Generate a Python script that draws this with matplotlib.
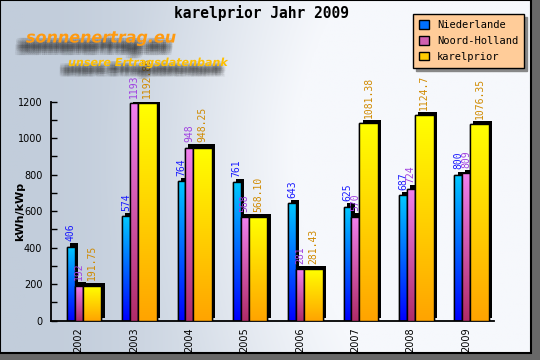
import numpy as np
import matplotlib
matplotlib.use("Agg")
import matplotlib.pyplot as plt
from matplotlib.colors import LinearSegmentedColormap, to_rgb
from matplotlib.patches import Rectangle, Patch
import matplotlib.patheffects as pe

years = ["2002", "2003", "2004", "2005", "2006", "2007", "2008", "2009"]
niederlande = [406, 574, 764, 761, 643, 625, 687, 800]
noord_holland = [192, 1193, 948, 568, 281, 570, 724, 809]
karelprior = [191.75, 1192.86, 948.25, 568.10, 281.43, 1081.38, 1124.7, 1076.35]
karelprior_labels = ["191.75", "1192.86", "948.25", "568.10", "281.43", "1081.38", "1124.7", "1076.35"]
series_names = ["Niederlande", "Noord-Holland", "karelprior"]

W, H = 540, 360
fig = plt.figure(figsize=(W / 100, H / 100), dpi=100)
fig.patch.set_facecolor("#686868")

# background panel
bg = fig.add_axes([0, 7 / H, 531 / W, 1 - 7 / H])
bg.set_axis_off()
xx = np.linspace(0, 1, 300)
yy = np.linspace(0, 1, 200)
X, Y = np.meshgrid(xx, yy)
c_left = np.array(to_rgb("#c2cddb"))
c_right = np.array(to_rgb("#f6f8fc"))
t = np.clip((X - 0.05) / 0.75, 0, 1)
t = t * t * (3 - 2 * t)
r = np.sqrt((X - 0.68) ** 2 + ((Y - 0.45) * 0.7) ** 2)
glow = np.clip(1 - r / 0.5, 0, 1) * 0.35
t = np.clip(t + glow, 0, 1)
img = c_left[None, None, :] * (1 - t[..., None]) + c_right[None, None, :] * t[..., None]
bg.imshow(img, extent=[0, 1, 0, 1], aspect="auto", origin="upper")
bg.add_patch(Rectangle((0, 0), 1, 1, transform=bg.transAxes, fill=False,
                       edgecolor="black", lw=1.5, clip_on=False))
bg.set_xlim(0, 1)
bg.set_ylim(0, 1)


def blur_shadow(dx, dy, spread, alpha):
    effects = []
    for ox in np.linspace(-spread, spread, 5):
        for oy in np.linspace(-spread, spread, 5):
            effects.append(pe.SimplePatchShadow(offset=(dx + ox, dy + oy),
                                                shadow_rgbFace="#202020", alpha=alpha))
    effects.append(pe.Normal())
    return effects


# watermark
fig.text(26 / W, 1 - 38 / H, "sonnenertrag.eu", fontsize=11.5, fontweight="bold",
         fontstyle="italic", color="#ff9a10", va="center", ha="left",
         path_effects=blur_shadow(-5, -6, 3, 0.08))
fig.text(68 / W, 1 - 63 / H, "unsere Ertragsdatenbank", fontsize=8, fontweight="bold",
         fontstyle="italic", color="#ffc000", va="center", ha="left",
         path_effects=blur_shadow(-4, -5, 2.5, 0.08))

# title
fig.text(262 / W, 1 - 13 / H, "karelprior Jahr 2009", fontsize=10.5, family="DejaVu Sans Mono",
         fontweight="bold", ha="center", va="center", color="black")

ax = fig.add_axes([50.7 / W, (H - 320.7) / H, 443 / W, 219 / H])
ax.patch.set_alpha(0)

cmaps = [
    LinearSegmentedColormap.from_list("b", ["#0000ff", "#00c8ff"]),
    LinearSegmentedColormap.from_list("p", ["#b02c68", "#f080ee"]),
    LinearSegmentedColormap.from_list("y", ["#ffa400", "#ffff00"]),
]
face = ["#0070ff", "#d060b0", "#ffcc00"]
label_colors = ["#1a1aff", "#a040e0", "#d08a00"]
offsets = [(-0.21, 0.14), (-0.07, 0.145), (0.075, 0.34)]
values = [niederlande, noord_holland, karelprior]
labels = [[str(v) for v in niederlande], [str(v) for v in noord_holland], karelprior_labels]

x = np.arange(len(years))
grad = np.linspace(1, 0, 100).reshape(-1, 1)
for s in range(3):
    z = 2 + s
    left, w = offsets[s]
    bars = ax.bar(x + left, values[s], width=w, align="edge", color=face[s],
                  edgecolor="black", lw=1, zorder=z,
                  path_effects=[pe.SimplePatchShadow(offset=(2.3, 2.3), shadow_rgbFace="black", alpha=1.0),
                                pe.Normal()])
    for b, lab in zip(bars, labels[s]):
        bx, bw, bh = b.get_x(), b.get_width(), b.get_height()
        im = ax.imshow(grad, extent=[bx, bx + bw, 0, bh], aspect="auto", cmap=cmaps[s],
                       zorder=z + 0.1, interpolation="bilinear")
        im.set_clip_path(b)
        ax.add_patch(Rectangle((bx, 0), bw, bh, fill=False, edgecolor="black", lw=1, zorder=z + 0.2))
        ax.annotate(lab, (bx + bw / 2, bh), xytext=(0, 3.8), textcoords="offset points",
                    rotation=90, ha="center", va="bottom", fontsize=7,
                    family="DejaVu Sans Mono", color=label_colors[s], zorder=z + 0.3,
                    annotation_clip=False)

ax.set_xlim(-0.5, len(years) - 0.5)
ax.set_ylim(0, 1200)
ax.set_xticks(x)
ax.set_xticklabels(years, rotation=90, fontsize=7)
ax.tick_params(axis="x", length=0, pad=5)
ax.set_yticks(np.arange(0, 1201, 200))
ax.set_yticks(np.arange(100, 1200, 200), minor=True)
ax.tick_params(axis="y", which="both", direction="in", labelsize=7, pad=6)
ax.tick_params(axis="y", which="major", length=4.5, width=1)
ax.tick_params(axis="y", which="minor", length=4.5, width=1)
for sp in ["top", "right"]:
    ax.spines[sp].set_visible(False)
for sp in ["left", "bottom"]:
    ax.spines[sp].set_linewidth(1.3)

fig.text(20 / W, 1 - 211 / H, "kWh/kWp", rotation=90, fontsize=8, fontweight="bold",
         ha="center", va="center")

handles = [Patch(facecolor=face[i], edgecolor="black") for i in range(3)]
leg = fig.legend(handles, series_names, loc="upper left", bbox_to_anchor=(413 / W, 1 - 14 / H),
                 prop={"family": "DejaVu Sans Mono", "size": 7.5}, frameon=True, fancybox=False,
                 shadow={"color": "#888888", "alpha": 1.0}, facecolor="#ffcc99", edgecolor="black",
                 framealpha=1, handlelength=0.9, handleheight=0.9, borderpad=0.6,
                 labelspacing=0.55, handletextpad=0.8, borderaxespad=0)
leg.get_frame().set_linewidth(1)

fig.savefig("out.png", dpi=100, facecolor=fig.get_facecolor())
